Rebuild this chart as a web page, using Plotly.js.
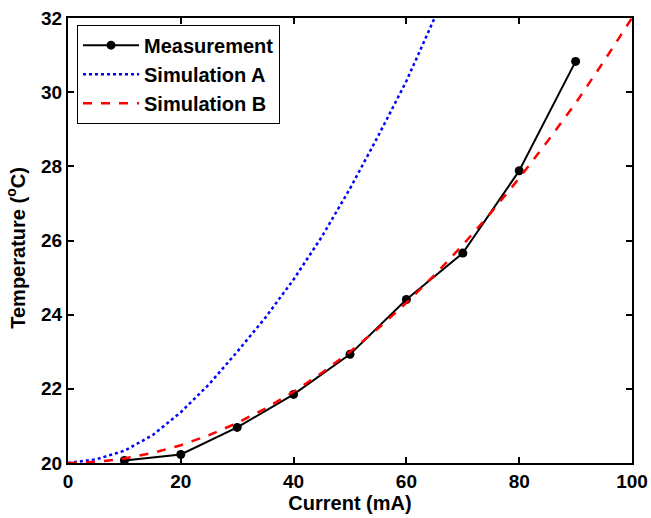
<!DOCTYPE html>
<html>
<head>
<meta charset="utf-8">
<script src="https://cdn.plot.ly/plotly-3.0.1.min.js"></script>
<style>html,body{margin:0;padding:0;background:#fff;}#chart{width:651px;height:518px;}</style>
</head>
<body>
<div id="chart"></div>
<script>
// Measurement
const measCurrent = [10, 20, 30, 40, 50, 60, 70, 80, 90];
const measTemp    = [20.07, 20.23, 20.96, 21.85, 22.93, 24.41, 25.66, 27.88, 30.83];

// Simulation A
const simACurrent = [0, 5, 10, 15, 20, 25, 30, 35, 40, 45, 50, 55, 60, 65, 70];
const simATemp    = [20.00, 20.10, 20.33, 20.75, 21.37, 22.12, 23.00, 23.92, 24.95, 26.10, 27.40, 28.82, 30.30, 31.95, 33.70];

// Simulation B
const simBCurrent = [0, 5, 10, 15, 20, 25, 30, 35, 40, 45, 50, 55, 60, 65, 70, 75, 80, 85, 90, 95, 100];
const simBTemp    = [20.00, 20.03, 20.12, 20.27, 20.48, 20.75, 21.08, 21.47, 21.92, 22.43, 23.00, 23.63, 24.32, 25.07, 25.88, 26.75, 27.68, 28.67, 29.70, 30.83, 32.00];

const xTicks = [0, 20, 40, 60, 80, 100];
const yTicks = [20, 22, 24, 26, 28, 30, 32];

const FONT = "Liberation Sans, Arial, sans-serif";

const traces = [
  {x: measCurrent, y: measTemp, name: "Measurement", type: "scatter", mode: "lines+markers",
   line: {color: "#000000", width: 2}, marker: {color: "#000000", size: 9, symbol: "circle"}},
  {x: simACurrent, y: simATemp, name: "Simulation A", type: "scatter", mode: "lines",
   line: {color: "#0000ff", width: 2.5, dash: "dot"}},
  {x: simBCurrent, y: simBTemp, name: "Simulation B", type: "scatter", mode: "lines",
   line: {color: "#ff0000", width: 2.5, dash: "dash"}}
];

const axisCommon = {
  showgrid: false, zeroline: false, showline: true, linecolor: "#000", linewidth: 2,
  mirror: "ticks", ticks: "inside", ticklen: 6, tickwidth: 2, tickcolor: "#000",
  tickfont: {family: FONT, size: 19, color: "#000", weight: "bold"}
};

const layout = {
  width: 651, height: 518,
  margin: {l: 68, r: 19, t: 18, b: 55},
  paper_bgcolor: "#fff", plot_bgcolor: "#fff",
  font: {family: FONT, color: "#000"},
  showlegend: true,
  xaxis: Object.assign({}, axisCommon, {
    range: [0, 100], tickvals: xTicks, ticktext: xTicks.map(String),
    title: {text: "Current (mA)", font: {family: FONT, size: 20, color: "#000", weight: "bold"}, standoff: 5}
  }),
  yaxis: Object.assign({}, axisCommon, {
    range: [20, 32], tickvals: yTicks, ticktext: yTicks.map(String)
  }),
  annotations: [{
    text: "Temperature (<sup>o</sup>C)", textangle: -90, showarrow: false,
    xref: "paper", yref: "paper", x: -0.092, y: 0.484, xanchor: "center", yanchor: "middle",
    font: {family: FONT, size: 20, color: "#000", weight: "bold"}
  }],
  legend: {
    x: 0.016, y: 0.985, xanchor: "left", yanchor: "top",
    bgcolor: "#fff", bordercolor: "#000", borderwidth: 1,
    font: {family: FONT, size: 20, color: "#000", weight: "bold"},
    itemwidth: 56,
    tracegroupgap: 0
  }
};

Plotly.newPlot("chart", traces, layout, {displayModeBar: false, staticPlot: true});
</script>
</body>
</html>
